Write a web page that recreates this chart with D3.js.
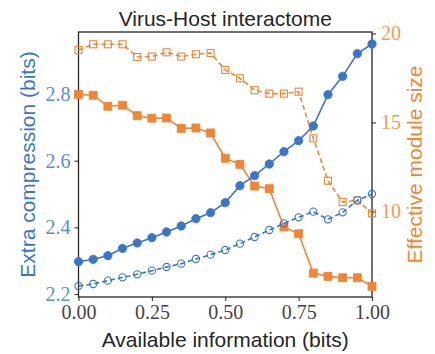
<!DOCTYPE html>
<html>
<head>
<meta charset="utf-8">
<script src="https://cdn.jsdelivr.net/npm/d3@7"></script>
<style>
body{margin:0;background:#fff;}
svg{display:block;}
</style>
</head>
<body>
<svg id="chart" width="435" height="354"></svg>
<script>
const availableInfo = [0,0.05,0.1,0.15,0.2,0.25,0.3,0.35,0.4,0.45,0.5,0.55,0.6,0.65,0.7,0.75,0.8,0.85,0.9,0.95,1.0];
const compressionSolid = [2.297,2.304,2.315,2.337,2.353,2.369,2.386,2.404,2.426,2.444,2.474,2.525,2.555,2.59,2.627,2.66,2.704,2.798,2.853,2.921,2.95];
const compressionDashed = [2.224,2.23,2.24,2.25,2.259,2.27,2.281,2.291,2.305,2.318,2.332,2.351,2.371,2.392,2.412,2.43,2.447,2.424,2.445,2.481,2.5];
const moduleSolid = [16.58,16.53,15.91,15.97,15.38,15.24,15.25,14.67,14.69,14.41,12.99,12.65,11.43,11.28,9.13,8.75,6.54,6.36,6.28,6.28,5.8];
const moduleDashed = [19.07,19.39,19.39,19.39,18.68,18.7,18.94,18.7,18.83,18.9,17.95,17.48,16.81,16.62,16.62,16.73,14.11,11.73,10.53,10.63,9.9];
const xTicks = [0,0.25,0.5,0.75,1.0];
const leftTicks = [2.2,2.4,2.6,2.8];
const rightTicks = [10,15,20];

const blue = "#3a76c4", orange = "#ef8636";
const svg = d3.select("#chart");
const L = 78.5, R = 372, T = 32, B = 297;
const x = d3.scaleLinear().domain([0,1]).range([L,R]);
const yL = d3.scaleLinear().domain([2.191,2.986]).range([B,T]);
const yR = d3.scaleLinear().domain([5.2,20.08]).range([B,T]);

const tickFont = "'Liberation Serif','DejaVu Serif',serif";
const sans = "'Liberation Sans',Arial,sans-serif";
const labelSize = 21;

// Axes
const gx = svg.append("g").attr("transform",`translate(0,${B})`)
  .call(d3.axisBottom(x).tickValues(xTicks).tickFormat(d3.format(".2f")).tickSizeOuter(0).tickSize(4).tickPadding(4));
const gl = svg.append("g").attr("transform",`translate(${L},0)`)
  .call(d3.axisLeft(yL).tickValues(leftTicks).tickFormat(d3.format(".1f")).tickSizeOuter(0).tickSize(4).tickPadding(4));
const gr = svg.append("g").attr("transform",`translate(${R},0)`)
  .call(d3.axisRight(yR).tickValues(rightTicks).tickFormat(d3.format("d")).tickSizeOuter(0).tickSize(4).tickPadding(5));
[gx,gl,gr].forEach(g=>{
  g.select(".domain").remove();
  g.selectAll(".tick line").attr("stroke","#333").attr("stroke-width",1.1);
  g.selectAll(".tick text").attr("font-family",tickFont).attr("font-size",20);
});
gx.selectAll(".tick text").attr("fill","#444");
gl.selectAll(".tick text").attr("fill","#5b8dd0");
gr.selectAll(".tick text").attr("fill","#f29a55");

// Frame
svg.append("rect").attr("x",L).attr("y",T).attr("width",R-L).attr("height",B-T)
  .attr("fill","none").attr("stroke","#262626").attr("stroke-width",1.3);

function series(vals, yScale, color, dashed, marker){
  const pts = availableInfo.map((d,i)=>[x(d), yScale(vals[i])]);
  svg.append("path").attr("d", d3.line()(pts)).attr("fill","none")
    .attr("stroke",color).attr("stroke-width",1.6)
    .attr("stroke-dasharray", dashed ? "5,3" : null);
  const g = svg.append("g");
  if(marker==="circle"){
    g.selectAll("circle").data(pts).join("circle")
      .attr("cx",d=>d[0]).attr("cy",d=>d[1]).attr("r",dashed?3.6:4.2)
      .attr("fill",dashed?"none":color).attr("stroke",color).attr("stroke-width",dashed?1.1:0.8);
  } else {
    const s = dashed ? 7 : 8;
    g.selectAll("rect").data(pts).join("rect")
      .attr("x",d=>d[0]-s/2).attr("y",d=>d[1]-s/2).attr("width",s).attr("height",s)
      .attr("fill",dashed?"none":color).attr("stroke",color).attr("stroke-width",dashed?1.1:0.8);
  }
}
series(moduleDashed, yR, orange, true, "square");
series(moduleSolid, yR, orange, false, "square");
series(compressionDashed, yL, blue, true, "circle");
series(compressionSolid, yL, blue, false, "circle");

// Labels
svg.append("text").attr("x",(L+R)/2).attr("y",26).attr("text-anchor","middle")
  .attr("font-family",sans).attr("font-size",labelSize).attr("fill","#262626").text("Virus-Host interactome");
svg.append("text").attr("x",(L+R)/2).attr("y",347).attr("text-anchor","middle")
  .attr("font-family",sans).attr("font-size",labelSize).attr("fill","#262626").text("Available information (bits)");
svg.append("text").attr("transform",`translate(35,${(T+B)/2}) rotate(-90)`).attr("text-anchor","middle")
  .attr("font-family",sans).attr("font-size",labelSize).attr("fill",blue).text("Extra compression (bits)");
svg.append("text").attr("transform",`translate(422,${(T+B)/2}) rotate(-90)`).attr("text-anchor","middle")
  .attr("font-family",sans).attr("font-size",labelSize).attr("fill",orange).text("Effective module size");
</script>
</body>
</html>
